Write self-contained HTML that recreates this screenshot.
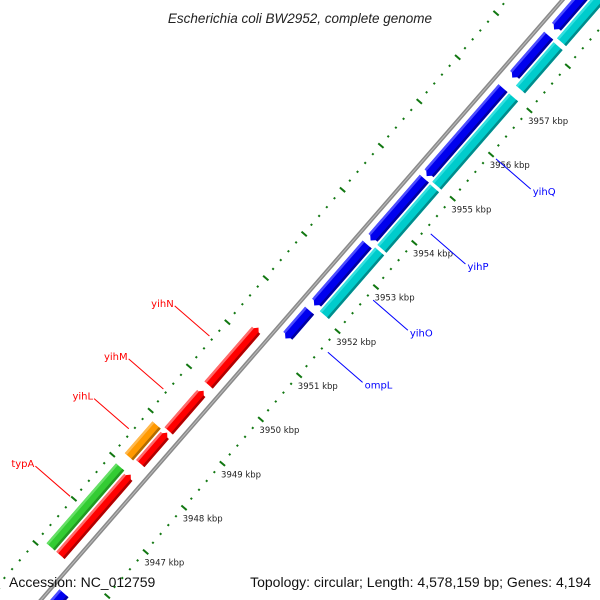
<!DOCTYPE html>
<html><head><meta charset="utf-8"><style>
html,body{margin:0;padding:0;background:#fff;width:600px;height:600px;overflow:hidden;}
svg{display:block;overflow:hidden;font-family:"DejaVu Sans","Liberation Sans",sans-serif;}
</style></head><body>
<svg id="map" width="600" height="600" viewBox="0 0 600 600" xmlns="http://www.w3.org/2000/svg">
<rect width="600" height="600" fill="#fff"/>
<g id="track" transform="translate(301.7,300) rotate(-49)"></g>
<g id="labels"></g>
<text x="300" y="23" text-anchor="middle" font-style="italic" font-size="13.5" fill="#222" style="font-family:'Liberation Sans',sans-serif">Escherichia coli BW2952, complete genome</text>
<text x="9" y="587" font-size="14" fill="#111" style="font-family:'Liberation Sans',sans-serif">Accession: NC_012759</text>
<text x="591" y="587" text-anchor="end" font-size="14" fill="#111" style="font-family:'Liberation Sans',sans-serif">Topology: circular; Length: 4,578,159 bp; Genes: 4,194</text>
</svg>
<script>
// data (kbp)
const redStarts = [3946.0, 3948.08, 3948.82, 3949.86];
const redEnds   = [3947.83, 3948.78, 3949.73, 3951.16];
const greenStarts = [3946.0];
const greenEnds   = [3947.81];
const orangeStarts = [3948.04];
const orangeEnds   = [3948.76];
const blueStarts = [3943.0, 3951.32, 3952.07, 3953.54, 3955.0, 3957.23, 3958.32];
const blueEnds   = [3945.55, 3951.95, 3953.45, 3954.94, 3956.99, 3958.18, 3961.0];
const cyanStarts = [3952.06, 3953.56, 3954.99, 3957.17, 3958.24];
const cyanEnds   = [3953.5, 3954.93, 3956.99, 3958.15, 3961.0];
const tickKbp = [3947, 3948, 3949, 3950, 3951, 3952, 3953, 3954, 3955, 3956, 3957];
const geneNames = ["typA", "yihL", "yihM", "yihN", "ompL", "yihO", "yihP", "yihQ"];
const geneKbp = [3946.87, 3948.4, 3949.3, 3950.5, 3951.62, 3952.8, 3954.3, 3956.0];
const geneStrand = [1, 1, 1, 1, -1, -1, -1, -1];

const NS = "http://www.w3.org/2000/svg";
const track = document.getElementById('track');
const labels = document.getElementById('labels');
const PXK = 58.5;
function sPos(k){ return (k - 3952) * PXK; }
const ux = Math.cos(-49*Math.PI/180), uy = Math.sin(-49*Math.PI/180);
const vx = -uy, vy = ux;
function toScreen(s, n){ return [301.7 + s*ux + n*vx, 300 + s*uy + n*vy]; }
function mk(tag, attrs, parent){
  const e = document.createElementNS(NS, tag);
  for (const k in attrs) e.setAttribute(k, attrs[k]);
  parent.appendChild(e); return e;
}
let bb = mk('line', {x1:-600, y1:0, x2:600, y2:0, stroke:'#8a8a8a', 'stroke-width':4}, track);


let bb2 = mk('line', {x1:-600, y1:0, x2:600, y2:0, stroke:'#bbb', 'stroke-width':1}, track);



function feature(k1, k2, n1, n2, col, light, dark, dir, name){
  const a = sPos(k1), b = sPos(k2), h = 6, m = (n1+n2)/2;
  let pts;
  if (dir === 1) pts = [[a,n1],[b-h,n1],[b,m],[b-h,n2],[a,n2]];
  else if (dir === -1) pts = [[a+h,n1],[b,n1],[b,n2],[a+h,n2],[a,m]];
  else pts = [[a,n1],[b,n1],[b,n2],[a,n2]];
  const g = mk('g', {}, track);
  
  
  mk('polygon', {points: pts.map(p=>p.join(',')).join(' '), fill: col}, g);
  const x1 = dir===-1 ? a+h*0.6 : a, x2 = dir===1 ? b-h*0.6 : b;
  mk('rect', {x:x1, y:n1, width:Math.max(0,x2-x1), height:2.5, fill: light}, g);
  mk('rect', {x:x1, y:n2-2.5, width:Math.max(0,x2-x1), height:2.5, fill: dark}, g);
}
redStarts.forEach((s,i)=>feature(s, redEnds[i], -20, -9, '#f00', '#ff6a6a', '#b00000', 1, 'red-gene-' + i));
greenStarts.forEach((s,i)=>feature(s, greenEnds[i], -33, -22, '#33cc33', '#66e066', '#229922', 0, 'green-gene-' + i));
orangeStarts.forEach((s,i)=>feature(s, orangeEnds[i], -33, -22, '#ff9900', '#ffb84d', '#b36b00', 0, 'orange-gene-' + i));
blueStarts.forEach((s,i)=>feature(s, blueEnds[i], 7, 19, '#0000ee', '#4d4dff', '#0000a0', -1, 'blue-gene-' + i));
cyanStarts.forEach((s,i)=>feature(s, cyanEnds[i], 21, 33, '#00cccc', '#33e0e0', '#008c8c', 0, 'cyan-gene-' + i));

for (let k = 3940; k <= 3962; k += 0.2){
  const kk = Math.round(k*10)/10, s = sPos(kk);
  const major = Math.abs(kk - Math.round(kk)) < 0.01;
  let t = mk('line', {x1:s, x2:s, y1: major?44:46, y2: major?51:48, stroke:'#117711', 'stroke-width':2}, track);
  
  
  const so = sPos(kk + 0.88);
  let t2 = mk('line', {x1:so, x2:so, y1: major?-45:-43, y2: major?-38:-41, stroke:'#117711', 'stroke-width':2}, track);
  
  
}
tickKbp.forEach(k=>{
  const p = toScreen(sPos(k), 47);
  let t = mk('text', {x:p[0]-1, y:p[1]+14, 'font-size':8.5, fill:'#222'}, labels);
  t.textContent = k + ' kbp';
  
  
});
geneNames.forEach((nm,i)=>{
  const st = geneStrand[i], s = sPos(geneKbp[i]);
  const col = st===1 ? '#f00' : '#00f';
  const p1 = toScreen(s, st===1 ? -46 : 54);
  const p2 = toScreen(s, st===1 ? -92 : 100);
  let l = mk('line', {x1:p1[0], y1:p1[1], x2:p2[0], y2:p2[1], stroke:col, 'stroke-width':1}, labels);
  
  
  let t = mk('text', {x: st===1 ? p2[0]-1 : p2[0]+2, y: st===1 ? p2[1]+1 : p2[1]+6, 'font-size':10, fill:col, 'text-anchor': st===1 ? 'end':'start'}, labels);
  t.textContent = nm;
  
  
});
</script>
</body></html>
